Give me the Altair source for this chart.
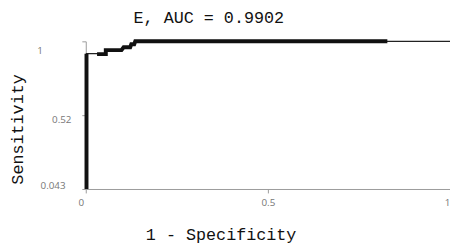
import altair as alt
import pandas as pd

# ROC curve vertices (1 - specificity, sensitivity)
curve_fpr = [0.002, 0.002, 0.031, 0.055, 0.055, 0.098, 0.104, 0.122, 0.125, 0.133, 0.136, 0.828, 1.0]
curve_sens = [0.043, 0.92, 0.92, 0.92, 0.943, 0.943, 0.962, 0.962, 0.981, 0.981, 1.0, 1.0, 1.0]

# runs where the point markers are densely packed (drawn as a thick band)
dense_a_fpr = [0.002, 0.002]
dense_a_sens = [0.043, 0.92]
dense_b_fpr = [0.031, 0.055, 0.055, 0.098, 0.104, 0.122, 0.125, 0.133, 0.136, 0.828]
dense_b_sens = [0.917, 0.917, 0.943, 0.943, 0.962, 0.962, 0.981, 0.981, 1.0, 1.0]

x_ticks = [0, 0.5, 1]
y_ticks = [0.043, 0.52, 1]

thin = pd.DataFrame({"fpr": curve_fpr, "sens": curve_sens, "i": range(len(curve_fpr)), "seg": "thin"})
da = pd.DataFrame({"fpr": dense_a_fpr, "sens": dense_a_sens, "i": range(len(dense_a_fpr)), "seg": "a"})
db = pd.DataFrame({"fpr": dense_b_fpr, "sens": dense_b_sens, "i": range(len(dense_b_fpr)), "seg": "b"})
dense = pd.concat([da, db], ignore_index=True)

mono = "Liberation Mono"

x_enc = alt.X(
    "fpr:Q",
    scale=alt.Scale(domain=[0, 1], nice=False, zero=False),
    axis=alt.Axis(
        values=x_ticks, labelExpr="'' + datum.value", grid=False,
        domainColor="#9a9a9a", tickColor="#9a9a9a", tickSize=4,
        labelFont="Open Sans", labelFontSize=10, labelColor="#777777", labelPadding=5,
        labelOffset={"condition": {"test": "datum.value == 0", "value": -8}, "value": 0},
        title="1 - Specificity", titleFont=mono, titleFontSize=17, titleFontWeight="normal",
        titleColor="#111111", titleX=137, titleY=46, titleBaseline="middle", titleAlign="center",
    ),
)
y_enc = alt.Y(
    "sens:Q",
    scale=alt.Scale(domain=[0.043, 1], nice=False, zero=False),
    axis=alt.Axis(
        values=y_ticks, labelExpr="'' + datum.value", grid=False,
        domainColor="#9a9a9a", tickColor="#9a9a9a", tickSize=4,
        labelFont="Open Sans", labelFontSize=10, labelColor="#777777",
        labelPadding={"condition": [
            {"test": "datum.value == 1", "value": 40},
            {"test": "datum.value == 0.52", "value": 11},
        ], "value": 17},
        labelOffset={"condition": [
            {"test": "datum.value == 1", "value": 9},
            {"test": "datum.value == 0.52", "value": 4},
        ], "value": -3},
        title="Sensitivity", titleFont=mono, titleFontSize=17, titleFontWeight="normal",
        titleColor="#111111", titleX=-64, titleY=89, titleAngle=270,
        titleBaseline="alphabetic", titleAlign="center",
    ),
)

thin_layer = alt.Chart(thin).mark_line(color="#222222", strokeWidth=1.3).encode(
    x=x_enc, y=y_enc, order="i:Q"
)
dense_layer = alt.Chart(dense).mark_line(color="#111111", strokeWidth=4).encode(
    x="fpr:Q", y="sens:Q", detail="seg:N", order="i:Q"
)

chart = (
    alt.layer(thin_layer, dense_layer)
    .properties(
        width=370,
        height=150,
        autosize=alt.AutoSizeParams(type="none"),
        padding={"left": 79, "top": 32, "right": 0, "bottom": 54},
        title=alt.TitleParams(
            "E, AUC = 0.9902", font=mono, fontSize=17, fontWeight="normal",
            color="#111111", anchor="middle", frame="group", dx=-60, offset=7,
        ),
    )
    .configure_view(stroke=None)
)

chart.save("out.html", embed_options={"renderer": "svg", "actions": False})
